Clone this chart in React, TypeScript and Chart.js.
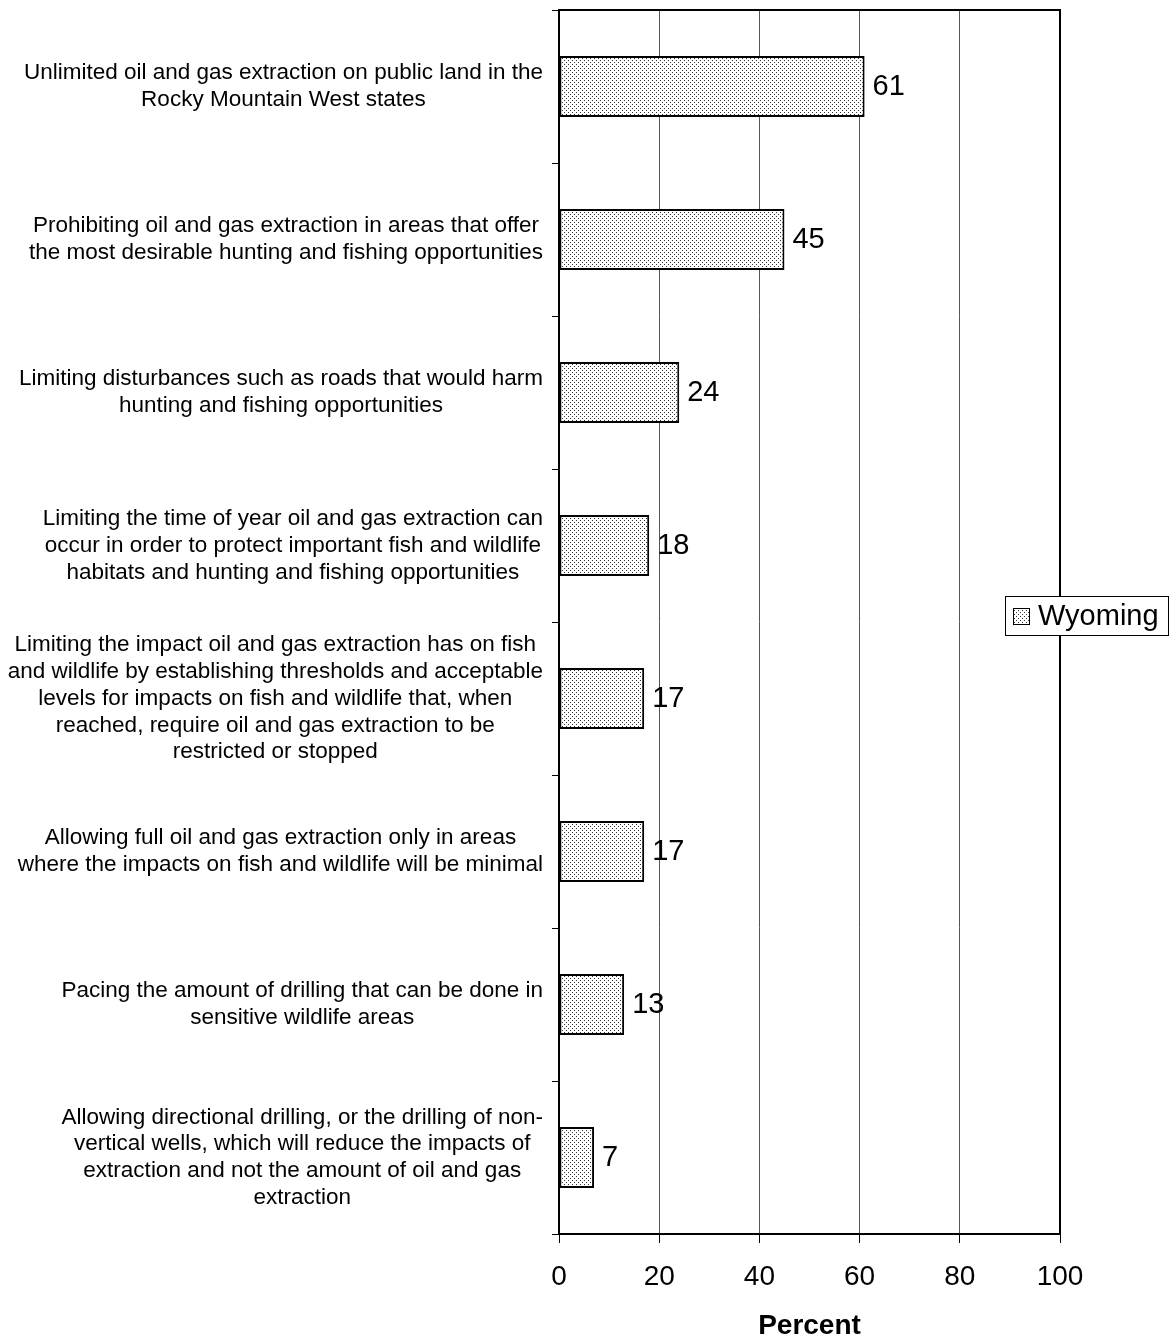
import React, { useEffect, useRef } from "react";
import { Chart, registerables } from "chart.js";

Chart.register(...registerables);

// ---- Data ----
const categories: string[][] = [
  ["Unlimited oil and gas extraction on public land in the", "Rocky Mountain West states"],
  ["Prohibiting oil and gas extraction in areas that offer", "the most desirable hunting and fishing opportunities"],
  ["Limiting disturbances such as roads that would harm", "hunting and fishing opportunities"],
  [
    "Limiting the time of year oil and gas extraction can",
    "occur in order to protect important fish and wildlife",
    "habitats and hunting and fishing opportunities",
  ],
  [
    "Limiting the impact oil and gas extraction has on fish",
    "and wildlife by establishing thresholds and acceptable",
    "levels for impacts on fish and wildlife that, when",
    "reached, require oil and gas extraction to be",
    "restricted or stopped",
  ],
  ["Allowing full oil and gas extraction only in areas", "where the impacts on fish and wildlife will be minimal"],
  ["Pacing the amount of drilling that can be done in", "sensitive wildlife areas"],
  [
    "Allowing directional drilling, or the drilling of non-",
    "vertical wells, which will reduce the impacts of",
    "extraction and not the amount of oil and gas",
    "extraction",
  ],
];
const seriesName = "Wyoming";
const wyomingValues = [61, 45, 24, 18, 17, 17, 13, 7];
const xTickValues = [0, 20, 40, 60, 80, 100];
const xAxisTitle = "Percent";

const FONT = "'Liberation Sans', Arial, Helvetica, sans-serif";

function makePattern(ctx: CanvasRenderingContext2D): CanvasPattern | string {
  const c = document.createElement("canvas");
  c.width = 4;
  c.height = 4;
  const p = c.getContext("2d");
  if (!p) return "#ddd";
  p.fillStyle = "#ffffff";
  p.fillRect(0, 0, 4, 4);
  p.fillStyle = "#333333";
  p.fillRect(0, 0, 1, 1);
  p.fillRect(2, 2, 1, 1);
  return ctx.createPattern(c, "repeat") || "#ddd";
}

export default function App() {
  const ref = useRef<HTMLCanvasElement | null>(null);

  useEffect(() => {
    const canvas = ref.current;
    if (!canvas) return;
    const ctx = canvas.getContext("2d");
    if (!ctx) return;
    const pattern = makePattern(ctx);

    const framePlugin = {
      id: "frameAndLabels",
      afterDraw(chart: any) {
        const c = chart.ctx as CanvasRenderingContext2D;
        const { left, top, right, bottom } = chart.chartArea;
        c.save();
        // plot frame
        c.strokeStyle = "#000";
        c.lineWidth = 2;
        c.strokeRect(left, top, right - left, bottom - top);

        // value labels
        const meta = chart.getDatasetMeta(0);
        c.fillStyle = "#000";
        c.font = `29px ${FONT}`;
        c.textAlign = "left";
        c.textBaseline = "middle";
        meta.data.forEach((el: any, i: number) => {
          c.fillText(String(wyomingValues[i]), el.x + 8, el.y);
        });

        // category labels (block right-aligned, lines centred)
        const yScale = chart.scales.y;
        c.font = `22.5px ${FONT}`;
        c.textAlign = "center";
        const lineH = 26.8;
        categories.forEach((lines, i) => {
          const y = yScale.getPixelForTick(i);
          let widest = 0;
          lines.forEach((l) => {
            widest = Math.max(widest, c.measureText(l).width);
          });
          const cx = left - 16 - widest / 2;
          const y0 = y - ((lines.length - 1) * lineH) / 2;
          lines.forEach((l, k) => c.fillText(l, cx, y0 + k * lineH));
        });

        // legend
        const bx = 1005, by = 596, bw = 163, bh = 39;
        c.fillStyle = "#fff";
        c.fillRect(bx, by, bw, bh);
        c.strokeStyle = "#000";
        c.lineWidth = 1;
        c.strokeRect(bx + 0.5, by + 0.5, bw, bh);
        c.fillStyle = pattern as any;
        c.fillRect(1013, 608, 16, 16);
        c.strokeRect(1013.5, 608.5, 16, 16);
        c.fillStyle = "#000";
        c.font = `29px ${FONT}`;
        c.textAlign = "left";
        c.textBaseline = "middle";
        c.fillText(seriesName, 1038, 617);
        c.restore();
      },
    };

    const chart = new Chart(canvas, {
      type: "bar",
      data: {
        labels: categories,
        datasets: [
          {
            label: seriesName,
            data: wyomingValues,
            backgroundColor: pattern as any,
            borderColor: "#000",
            borderWidth: 2,
            borderSkipped: false,
            barPercentage: 0.4,
            categoryPercentage: 1,
          },
        ],
      },
      options: {
        indexAxis: "y",
        responsive: false,
        animation: false,
        layout: { padding: { top: 10, right: 112, left: 0, bottom: 0 } },
        plugins: {
          legend: { display: false },
          tooltip: { enabled: false },
        },
        scales: {
          x: {
            min: 0,
            max: 100,
            afterBuildTicks: (s: any) => {
              s.ticks = xTickValues.map((v) => ({ value: v }));
            },
            ticks: {
              color: "#000",
              font: { family: FONT, size: 28 },
              padding: 17,
              maxRotation: 0,
            },
            grid: {
              color: "#555",
              lineWidth: 1,
              tickLength: 9,
              tickColor: "#000",
            },
            border: { color: "#000", width: 2 },
            title: {
              display: true,
              text: xAxisTitle,
              color: "#000",
              font: { family: FONT, size: 28, weight: "bold", lineHeight: 1 },
              padding: 0,
            },
            afterFit: (s: any) => {
              s.height = 106;
            },
          },
          y: {
            ticks: { display: false },
            grid: {
              drawOnChartArea: false,
              offset: true,
              tickLength: 7,
              color: "#000",
              tickColor: "#000",
            },
            border: { color: "#000", width: 2 },
            afterFit: (s: any) => {
              s.width = 559;
            },
          },
        },
      } as any,
      plugins: [framePlugin],
    });

    return () => chart.destroy();
  }, []);

  return (
    <div style={{ position: "absolute", left: 0, top: 0, width: 1172, height: 1340, background: "#fff" }}>
      <canvas ref={ref} width={1172} height={1340} style={{ display: "block" }} />
    </div>
  );
}
